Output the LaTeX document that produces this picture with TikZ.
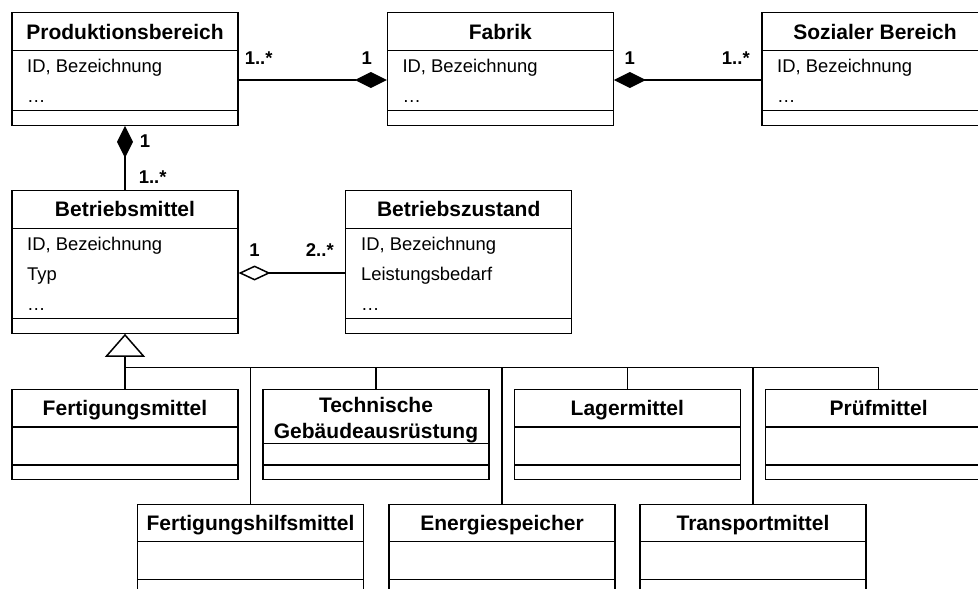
\documentclass[tikz,border=0pt]{standalone}
\usepackage{fontspec}
\setmainfont{Liberation Sans}
\usetikzlibrary{arrows.meta}
\tikzset{
  cls/.style={draw, line width=1.1pt, minimum width=226pt, inner sep=0pt},
  sep/.style={line width=1.1pt},
  ttl/.style={font=\bfseries\fontsize{21}{26}\selectfont, anchor=base, inner sep=0pt, align=center},
  attr/.style={font=\fontsize{18.4}{22}\selectfont, anchor=base west, inner sep=0pt},
  mult/.style={font=\bfseries\fontsize{18.5}{22}\selectfont, inner sep=0pt},
  conn/.style={line width=1.5pt},
  comp/.style={conn, -{Diamond[length=32pt,width=16pt]}},
  aggr/.style={conn, -{Diamond[open,length=32pt,width=15pt]}},
  gen/.style={conn, -{Triangle[open,length=23pt,width=40pt]}}
}
\begin{document}
\begin{tikzpicture}[x=1pt,y=-1pt]
\useasboundingbox (0,0) rectangle (978,589);
\clip (0,0) rectangle (978,589);
% obere Reihe
\foreach \n/\x/\t in {prod/125/Produktionsbereich, fab/500.3/Fabrik, soz/875/Sozialer Bereich} {
  \node[cls, minimum height=112.6pt] (\n) at (\x,69) {};
  \node[ttl] (\n-t) at (\x,39.7) {\t};
  \draw[sep] (\x-113,50.7) -- ++(226,0) (\x-113,110.7) -- ++(226,0);
  \node[attr] (\n-a) at (\x-98,72.5) {ID, Bezeichnung};
  \node[attr] (\n-b) at (\x-98,102.5) {…};
}
% Betriebsmittel, Betriebszustand
\node[cls, minimum height=142.6pt] (bm) at (125,262) {};
\node[ttl] (bm-t) at (125,216.5) {Betriebsmittel};
\draw[sep] (12,228.3) -- ++(226,0) (12,318.5) -- ++(226,0);
\foreach \i/\y/\t in {a/250.5/{ID, Bezeichnung}, b/280.5/Typ, c/310.5/…}
  \node[attr] (bm-\i) at (27,\y) {\t};
\node[cls, minimum height=142.6pt] (bz) at (458.7,262) {};
\node[ttl] (bz-t) at (458.7,216.5) {Betriebszustand};
\draw[sep] (345.7,228.3) -- ++(226,0) (345.7,318.5) -- ++(226,0);
\foreach \i/\y/\t in {a/250.5/{ID, Bezeichnung}, b/280.5/Leistungsbedarf, c/310.5/…}
  \node[attr] (bz-\i) at (361,\y) {\t};
% Unterklassen
\foreach \n/\x/\y/\t in {fm/125/389.3/Fertigungsmittel, lm/627.3/389.3/Lagermittel, pm/878.7/389.3/Prüfmittel, fhm/250.5/504/Fertigungshilfsmittel, es/502/504/Energiespeicher, tm/753/504/Transportmittel} {
  \node[cls, minimum height=90pt, anchor=north] (\n) at (\x,\y) {};
  \node[ttl] (\n-t) at (\x,\y+26) {\t};
  \draw[sep] (\x-113,\y+37.7) -- ++(226,0) (\x-113,\y+75.7) -- ++(226,0);
}
\node[cls, minimum height=90pt, anchor=north] (tga) at (376,389.3) {};
\node[ttl, anchor=center] (tga-t) at (376,419.8) {Technische\\Gebäudeausrüstung};
\draw[sep] (263,443.3) -- ++(226,0) (263,465) -- ++(226,0);
% Beziehungen
\draw[comp] ([yshift=-11pt]prod.east) -- ([yshift=-11pt]fab.west)
  node[mult, pos=0, anchor=south west, xshift=5.5pt, yshift=15pt] {1..*}
  node[mult, pos=1, anchor=south east, xshift=-14pt, yshift=15pt] {1};
\draw[comp] ([yshift=-11pt]soz.west) -- ([yshift=-11pt]fab.east)
  node[mult, pos=0, anchor=south east, xshift=-11pt, yshift=15pt] {1..*}
  node[mult, pos=1, anchor=south west, xshift=10pt, yshift=15pt] {1};
\draw[comp] (bm) -- (prod)
  node[mult, pos=0, anchor=south west, xshift=13pt, yshift=6pt] {1..*}
  node[mult, pos=1, anchor=north west, xshift=14pt, yshift=-8pt] {1};
\draw[aggr] ([yshift=-11pt]bz.west) -- ([yshift=-11pt]bm.east)
  node[mult, pos=0, anchor=south east, xshift=-10.7pt, yshift=16pt] {2..*}
  node[mult, pos=1, anchor=south west, xshift=10pt, yshift=16pt] {1};
% Generalisierung
\coordinate (bus) at (125,367.3);
\draw[gen] (bus) -- (bm);
\foreach \n in {fm,tga,lm,pm,fhm,es,tm}
  \draw[conn] (bus) -| (\n);
\end{tikzpicture}
\end{document}
